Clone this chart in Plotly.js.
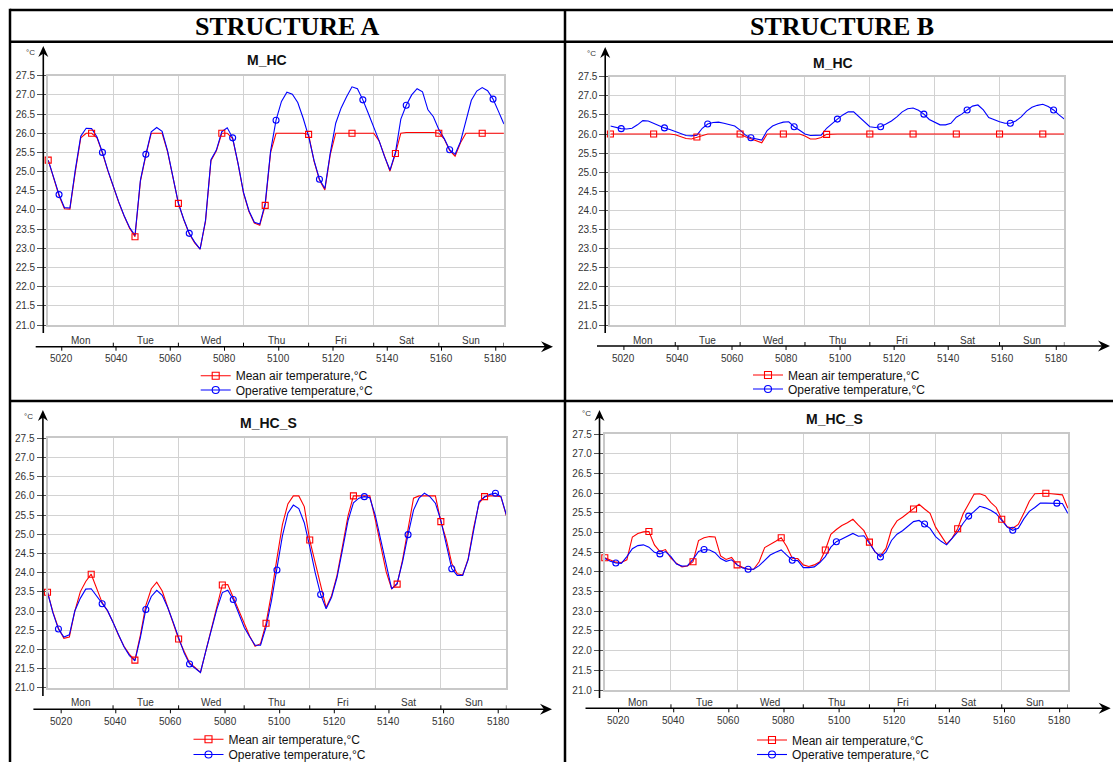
<!DOCTYPE html>
<html><head><meta charset="utf-8">
<script src="https://cdn.plot.ly/plotly-3.0.1.min.js"></script>
<style>html,body{margin:0;padding:0;background:#fff}#chart{width:1113px;height:762px}</style>
</head><body><div id="chart"></div>
<script>
// ---------------- DATA ----------------
const hours = [5015,5017,5019,5021,5023,5025,5027,5029,5031,5033,5035,5037,5039,5041,5043,5045,5047,5049,5051,5053,
  5055,5057,5059,5061,5063,5065,5067,5069,5071,5073,5075,5077,5079,5081,5083,5085,5087,5089,5091,5093,
  5095,5097,5099,5101,5103,5105,5107,5109,5111,5113,5115,5117,5119,5121,5123,5125,5127,5129,5131,5133,
  5135,5137,5139,5141,5143,5145,5147,5149,5151,5153,5155,5157,5159,5161,5163,5165,5167,5169,5171,5173,
  5175,5177,5179,5181,5183];

// Structure A, M_HC
const airA_HC = [25.30,24.80,24.37,24.03,24.02,25.00,25.88,26.00,26.00,25.88,
  25.48,25.02,24.60,24.20,23.84,23.52,23.30,24.75,25.42,26.00,
  26.00,26.00,25.52,24.86,24.17,23.74,23.38,23.14,22.98,23.70,
  25.28,25.54,26.00,26.00,25.86,25.20,24.44,23.96,23.66,23.60,
  24.12,25.50,26.00,26.00,26.00,26.00,26.00,26.00,25.97,25.27,
  24.78,24.52,25.45,26.00,26.00,26.00,26.00,26.00,26.00,26.00,
  26.00,25.80,25.38,25.01,25.47,26.00,26.02,26.02,26.02,26.02,
  26.02,26.02,26.00,25.85,25.55,25.40,25.75,26.00,26.00,26.00,
  26.00,26.00,26.00,26.00,26.00];
const opA_HC = [25.30,24.82,24.40,24.06,24.05,25.05,25.92,26.13,26.12,25.90,
  25.50,25.03,24.61,24.21,23.85,23.54,23.34,24.78,25.45,26.04,
  26.15,26.05,25.54,24.87,24.17,23.75,23.39,23.16,22.98,23.73,
  25.31,25.56,26.04,26.14,25.88,25.21,24.46,23.98,23.68,23.63,
  24.17,25.54,26.34,26.83,27.07,27.02,26.80,26.39,25.92,25.29,
  24.80,24.56,25.49,26.26,26.66,26.95,27.21,27.16,26.87,26.52,
  26.18,25.80,25.39,25.04,25.49,26.37,26.73,27.00,27.16,27.08,
  26.61,26.43,26.10,25.86,25.57,25.45,25.78,26.34,26.86,27.10,
  27.19,27.11,26.89,26.57,26.24];

// Structure B, M_HC
const airB_HC = [26.00,26.00,26.00,26.00,26.00,26.00,26.00,26.00,26.00,26.00,
  26.00,26.00,25.98,25.93,25.88,25.87,25.92,25.97,26.00,26.00,
  26.00,26.00,26.00,26.00,26.00,25.93,25.88,25.82,25.77,26.00,
  26.00,26.00,26.00,26.00,26.00,26.00,25.95,25.87,25.87,25.91,
  25.99,26.00,26.00,26.00,26.00,26.00,26.00,26.00,26.00,26.00,
  26.00,26.00,26.00,26.00,26.00,26.00,26.00,26.00,26.00,26.00,
  26.00,26.00,26.00,26.00,26.00,26.00,26.00,26.00,26.00,26.00,
  26.00,26.00,26.00,26.00,26.00,26.00,26.00,26.00,26.00,26.00,
  26.00,26.00,26.00,26.00,26.00];
const opB_HC = [26.21,26.17,26.14,26.13,26.15,26.24,26.35,26.34,26.28,26.21,
  26.16,26.12,26.07,26.01,25.96,25.95,25.97,26.15,26.26,26.30,
  26.31,26.28,26.25,26.21,26.10,25.97,25.90,25.87,25.84,26.09,
  26.21,26.27,26.31,26.32,26.19,26.10,26.00,25.96,25.96,25.97,
  26.15,26.28,26.39,26.50,26.58,26.58,26.45,26.30,26.19,26.17,
  26.19,26.26,26.34,26.45,26.58,26.66,26.68,26.62,26.52,26.38,
  26.30,26.24,26.24,26.28,26.44,26.52,26.63,26.73,26.76,26.63,
  26.43,26.37,26.32,26.28,26.28,26.34,26.45,26.60,26.70,26.75,
  26.78,26.72,26.63,26.50,26.39];

// Structure A, M_HC_S
const airA_HCS = [23.49,22.97,22.55,22.29,22.32,23.00,23.50,23.77,23.96,23.61,
  23.22,23.00,22.71,22.37,22.08,21.87,21.72,22.37,23.15,23.58,
  23.75,23.52,23.10,22.68,22.27,21.95,21.65,21.53,21.40,21.97,
  22.53,23.11,23.68,23.69,23.36,23.01,22.66,22.35,22.08,22.15,
  22.68,23.46,24.37,25.25,25.79,26.00,26.00,25.72,24.85,24.27,
  23.63,23.09,23.40,23.93,24.69,25.47,26.00,26.00,26.00,26.00,
  25.38,24.70,24.02,23.58,23.70,24.34,25.14,25.94,26.00,26.00,
  26.00,26.00,25.33,24.86,24.24,23.97,23.94,24.36,25.17,25.81,
  25.98,26.00,26.00,25.98,25.48];
const opA_HCS = [23.49,22.95,22.53,22.32,22.38,23.00,23.33,23.57,23.58,23.38,
  23.19,23.01,22.70,22.36,22.07,21.84,21.70,22.31,23.04,23.38,
  23.54,23.41,23.09,22.71,22.29,21.91,21.62,21.50,21.40,21.97,
  22.53,23.05,23.48,23.54,23.30,22.96,22.58,22.33,22.11,22.11,
  22.58,23.27,24.07,24.96,25.55,25.76,25.67,25.30,24.68,24.00,
  23.43,23.06,23.36,23.88,24.60,25.35,25.82,25.94,25.98,25.95,
  25.49,24.86,24.22,23.58,23.72,24.29,24.99,25.63,25.94,26.07,
  25.98,25.81,25.36,24.70,24.10,23.93,23.93,24.34,25.13,25.85,
  25.97,26.04,26.07,25.98,25.50];

// Structure B, M_HC_S
const airB_HCS = [24.36,24.30,24.25,24.24,24.31,24.89,24.98,25.02,25.03,24.69,
  24.52,24.57,24.35,24.22,24.13,24.15,24.26,24.80,24.87,24.90,
  24.89,24.41,24.32,24.37,24.18,24.12,24.07,24.07,24.26,24.62,
  24.69,24.78,24.87,24.65,24.35,24.34,24.18,24.14,24.18,24.26,
  24.56,24.96,25.08,25.18,25.25,25.34,25.19,25.05,24.76,24.51,
  24.41,24.60,25.08,25.30,25.39,25.50,25.60,25.72,25.60,25.49,
  25.14,24.91,24.71,24.86,25.10,25.48,25.75,25.98,25.99,25.94,
  25.77,25.64,25.34,25.15,25.11,25.21,25.49,25.80,25.99,26.00,
  26.00,25.99,25.98,25.96,25.62];
const opB_HCS = [24.34,24.27,24.23,24.22,24.39,24.59,24.67,24.69,24.63,24.50,
  24.46,24.52,24.39,24.20,24.15,24.16,24.32,24.52,24.57,24.56,
  24.49,24.34,24.27,24.31,24.18,24.10,24.07,24.07,24.16,24.30,
  24.43,24.50,24.56,24.43,24.30,24.29,24.11,24.11,24.13,24.24,
  24.39,24.63,24.77,24.84,24.92,24.98,24.91,24.92,24.73,24.52,
  24.38,24.51,24.80,24.96,25.05,25.16,25.28,25.31,25.22,25.11,
  24.90,24.78,24.69,24.85,25.02,25.24,25.42,25.54,25.67,25.63,
  25.57,25.48,25.32,25.14,25.06,25.11,25.35,25.54,25.64,25.75,
  25.75,25.75,25.75,25.74,25.49];

const squareIdx = [0,8,16,24,32,40,48,56,64,72,80];
const circleIdx = [2,10,18,26,34,42,50,58,66,74,82];
const dayNames = ['Mon','Tue','Wed','Thu','Fri','Sat','Sun'];
const dayStart = [5015,5039,5063,5087,5111,5135,5159];
const dayEnd   = [5039,5063,5087,5111,5135,5159,5183];
const xTickVals = [5020,5040,5060,5080,5100,5120,5140,5160,5180];
const xRange = [5015,5183];
const yRange = [21,27.5];
const headers = ['STRUCTURE A','STRUCTURE B'];
const seriesNames = ['Mean air temperature,°C','Operative temperature,°C'];
const unitLabel = '°C';

// ---------------- LAYOUT ----------------
const W = 1113, H = 762;
const fx = p => p / W, fy = p => 1 - p / H;
const FONT = 'Liberation Sans, Arial, sans-serif';
const RED = '#ff0000', BLUE = '#0000ff';

const panels = [
  {title:'M_HC',   air:airA_HC,  op:opA_HC,  dx:[48.2,503.9], dy:[75.7,325.0], yAx:43.3, yTop:46, yBot:333, xAy:346.7, xAl:35.7, xAr:553, dayY:340, tickY:358, tX:266.5, tY:60, uX:30, uY:53, legX:235.7, legY:[375.7,390]},
  {title:'M_HC',   air:airB_HC,  op:opB_HC,  dx:[610.4,1064.4], dy:[76.7,325.0], yAx:605.2, yTop:47, yBot:333, xAy:346, xAl:597, xAr:1110, dayY:340, tickY:358.3, tX:833.4, tY:62.7, uX:591.7, uY:53.3, legX:788, legY:[375,389]},
  {title:'M_HC_S', air:airA_HCS, op:opA_HCS, dx:[47.5,506.4], dy:[438.3,687.8], yAx:42.9, yTop:410, yBot:696, xAy:709.3, xAl:33.4, xAr:552, dayY:702.7, tickY:721, tX:268.6, tY:423.3, uX:28.6, uY:416, legX:228.5, legY:[739.3,754.5]},
  {title:'M_HC_S', air:airB_HCS, op:opB_HCS, dx:[604.8,1067.9], dy:[434.3,690.0], yAx:599.5, yTop:410, yBot:698, xAy:708.3, xAl:585.5, xAr:1110.7, dayY:702, tickY:720, tX:834.4, tY:419.3, uX:586.5, uY:413.3, legX:792, legY:[740,754.5]}
];

const traces = [];
const shapes = [];
const annotations = [];
const layout = {
  width: W, height: H,
  margin: {l:0, r:0, t:0, b:0, autoexpand:false},
  paper_bgcolor: '#fff', plot_bgcolor: '#fff',
  showlegend: true,
  font: {family: FONT, size: 10, color: '#222'}
};

function pLine(x0,y0,x1,y1,w,c){
  shapes.push({type:'line', xref:'paper', yref:'paper', x0:fx(x0), y0:fy(y0), x1:fx(x1), y1:fy(y1), line:{color:c||'#000', width:w}});
}
function pPath(pts){
  const d = pts.map((p,i)=>(i?'L':'M')+fx(p[0]).toFixed(5)+','+fy(p[1]).toFixed(5)).join(' ')+' Z';
  shapes.push({type:'path', xref:'paper', yref:'paper', path:d, fillcolor:'#000', line:{width:0}});
}

// table
pLine(10,10,W,10,2.5);
pLine(10,8.8,10,H,2.5);
pLine(10,41.7,W,41.7,2.5);
pLine(565,10,565,H,2.5);
pLine(10,401,W,401,2.5);
annotations.push({xref:'paper', yref:'paper', x:fx(286.7), y:fy(26.5), text:'<b>'+headers[0]+'</b>', showarrow:false, xanchor:'center', yanchor:'middle', font:{family:'Liberation Serif, Times New Roman, serif', size:26, color:'#000'}});
annotations.push({xref:'paper', yref:'paper', x:fx(842), y:fy(26.5), text:'<b>'+headers[1]+'</b>', showarrow:false, xanchor:'center', yanchor:'middle', font:{family:'Liberation Serif, Times New Roman, serif', size:26, color:'#000'}});

let legendCount = 0;
panels.forEach((p, k) => {
  const s = k === 0 ? '' : String(k+1);
  const xa = 'x'+s, ya = 'y'+s;
  layout['xaxis'+s] = {
    domain:[fx(p.dx[0]), fx(p.dx[1])], range:xRange, anchor:ya,
    tickvals: dayEnd.slice(0,6), showticklabels:false, ticks:'',
    showgrid:true, gridcolor:'#d2d2d2', gridwidth:1,
    showline:true, mirror:true, linecolor:'#c8c8c8', linewidth:2,
    zeroline:false, fixedrange:true
  };
  layout['yaxis'+s] = {
    domain:[fy(p.dy[1]), fy(p.dy[0])], range:yRange, anchor:xa,
    tick0:21, dtick:0.5, tickformat:'.1f',
    ticks:'outside', ticklen:9, tickcolor:'#555', tickwidth:1,
    tickfont:{family:FONT, size:10, color:'#333'},
    showgrid:true, gridcolor:'#d2d2d2', gridwidth:1,
    showline:true, mirror:true, linecolor:'#c8c8c8', linewidth:2,
    zeroline:false, fixedrange:true
  };

  // series lines
  traces.push({x:hours, y:p.air, xaxis:xa, yaxis:ya, mode:'lines', line:{color:RED, width:1.1}, showlegend:false, hoverinfo:'skip'});
  traces.push({x:hours, y:p.op, xaxis:xa, yaxis:ya, mode:'lines', line:{color:BLUE, width:1.1}, showlegend:false, hoverinfo:'skip'});
  // sparse markers
  traces.push({x:squareIdx.map(i=>hours[i]), y:squareIdx.map(i=>p.air[i]), xaxis:xa, yaxis:ya, mode:'markers',
    marker:{symbol:'square-open', size:6, color:RED, line:{width:1.1}}, showlegend:false, hoverinfo:'skip', cliponaxis:false});
  traces.push({x:circleIdx.map(i=>hours[i]), y:circleIdx.map(i=>p.op[i]), xaxis:xa, yaxis:ya, mode:'markers',
    marker:{symbol:'circle-open', size:6, color:BLUE, line:{width:1.1}}, showlegend:false, hoverinfo:'skip', cliponaxis:false});

  // legends (one per row)
  [[RED,'square-open'],[BLUE,'circle-open']].forEach((st, r) => {
    legendCount++;
    const lname = legendCount === 1 ? 'legend' : 'legend'+legendCount;
    layout[lname] = {x:fx(p.legX-40), xanchor:'left', y:fy(p.legY[r]), yanchor:'middle',
      bgcolor:'rgba(0,0,0,0)', borderwidth:0, font:{family:FONT, size:12, color:'#111'}, itemwidth:30};
    traces.push({x:[null], y:[null], xaxis:xa, yaxis:ya, mode:'lines+markers', name:seriesNames[r], legend:lname,
      line:{color:st[0], width:1.1}, marker:{symbol:st[1], size:7, color:st[0], line:{width:1.1}}, showlegend:true, hoverinfo:'skip'});
  });

  // y axis arrow line
  pLine(p.yAx, p.yBot, p.yAx, p.yTop+6, 1.6);
  pPath([[p.yAx, p.yTop],[p.yAx-5, p.yTop+11],[p.yAx, p.yTop+7.5],[p.yAx+5, p.yTop+11]]);
  // x axis arrow line
  pLine(p.xAl, p.xAy, p.xAr-6, p.xAy, 1.6);
  pPath([[p.xAr, p.xAy],[p.xAr-12, p.xAy-5.5],[p.xAr-8, p.xAy],[p.xAr-12, p.xAy+5.5]]);

  // numbered ticks (down) and day boundary ticks (up)
  xTickVals.forEach(v => {
    shapes.push({type:'line', xref:xa, yref:'paper', x0:v, x1:v, y0:fy(p.xAy), y1:fy(p.xAy+4), line:{color:'#000', width:1}});
    annotations.push({xref:xa, yref:'paper', x:v, y:fy(p.tickY), text:String(v), showarrow:false, xanchor:'center', yanchor:'middle',
      font:{family:FONT, size:10, color:'#333'}});
  });
  dayEnd.forEach(v => {
    shapes.push({type:'line', xref:xa, yref:'paper', x0:v, x1:v, y0:fy(p.xAy), y1:fy(p.xAy-4), line:{color:'#000', width:1}});
  });
  dayNames.forEach((d, i) => {
    annotations.push({xref:xa, yref:'paper', x:(dayStart[i]+dayEnd[i])/2, y:fy(p.dayY), text:d, showarrow:false, xanchor:'center', yanchor:'middle',
      font:{family:FONT, size:10, color:'#333'}});
  });

  // title and unit label
  annotations.push({xref:'paper', yref:'paper', x:fx(p.tX), y:fy(p.tY), text:'<b>'+p.title+'</b>', showarrow:false, xanchor:'center', yanchor:'middle',
    font:{family:FONT, size:14, color:'#111'}});
  annotations.push({xref:'paper', yref:'paper', x:fx(p.uX), y:fy(p.uY), text:unitLabel, showarrow:false, xanchor:'center', yanchor:'middle',
    font:{family:FONT, size:8, color:'#333'}});
});

layout.shapes = shapes;
layout.annotations = annotations;

Plotly.newPlot('chart', traces, layout, {staticPlot:true, displayModeBar:false, responsive:false});
</script>
</body></html>
